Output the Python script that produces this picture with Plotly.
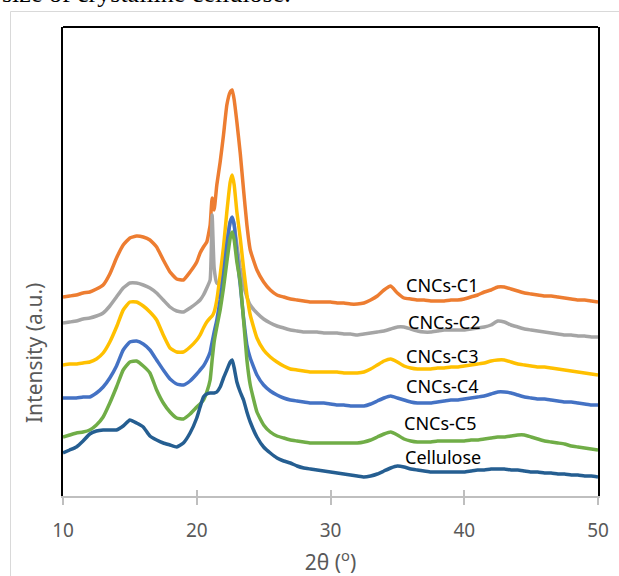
import plotly.graph_objects as go

# 2-theta grid (degrees)
two_theta = [10, 10.5, 11, 11.5, 12, 12.5, 13, 13.5, 14, 14.5, 15, 15.5, 16, 16.5, 17, 17.5, 18, 18.5, 19, 19.5, 20,
             20.25, 20.5, 20.75, 21, 21.15, 21.3, 21.5, 21.75, 22, 22.25, 22.5, 22.65, 22.8, 23, 23.25, 23.5, 23.75, 24,
             24.5, 25, 25.5, 26, 26.5, 27, 27.5, 28, 28.5, 29, 29.5, 30, 30.5, 31, 31.5, 32, 32.5, 33, 33.5, 34,
             34.5, 35, 35.5, 36, 36.5, 37, 37.5, 38, 38.5, 39, 39.5, 40, 40.5, 41, 41.5, 42, 42.5, 43, 43.5, 44,
             44.5, 45, 45.5, 46, 46.5, 47, 47.5, 48, 48.5, 49, 49.5, 50]

# intensities (a.u., stacked/offset as in the figure)
cncs_c1 = [199, 200, 201, 203, 204, 207, 211, 222, 238, 251, 258, 260, 259, 256, 249, 236, 224, 217, 216, 224, 234,
           243, 249, 254, 271, 298, 286, 311, 334, 361, 391, 404, 406, 396, 374, 343, 306, 271, 246,
           226, 214, 206, 201, 199, 197, 196, 195, 194, 194, 194, 194, 193, 193, 192, 192, 193, 196, 200, 206,
           210, 203, 198, 197, 196, 196, 195, 195, 195, 196, 196, 197, 199, 201, 204, 206, 209, 209, 207, 205,
           203, 202, 201, 200, 200, 199, 198, 197, 196, 196, 195, 194]
cncs_c2 = [173, 174, 175, 177, 178, 180, 183, 190, 199, 208, 213, 213, 211, 208, 203, 196, 189, 185, 184, 188, 193,
           196, 201, 208, 216, 281, 228, 213, 211, 224, 251, 274, 278, 271, 251, 228, 211, 199, 191,
           183, 177, 173, 170, 168, 166, 165, 164, 164, 164, 163, 163, 163, 162, 162, 161, 162, 163, 164, 165,
           167, 169, 169, 167, 165, 164, 164, 165, 166, 166, 166, 166, 167, 168, 169, 171, 175, 174, 171, 169,
           167, 166, 165, 164, 163, 162, 161, 161, 160, 160, 159, 159]
cncs_c3 = [131, 132, 132, 133, 134, 137, 143, 154, 169, 186, 194, 194, 190, 184, 176, 161, 148, 144, 144, 149, 156,
           161, 168, 174, 178, 180, 184, 196, 221, 249, 284, 314, 321, 311, 284, 258, 228, 201, 181,
           158, 146, 139, 134, 130, 127, 126, 125, 124, 124, 124, 124, 124, 123, 123, 123, 124, 127, 131, 135,
           137, 134, 130, 128, 127, 127, 127, 128, 128, 129, 129, 130, 131, 132, 133, 135, 136, 136, 134, 132,
           131, 130, 129, 129, 128, 127, 126, 125, 124, 123, 122, 121]
cncs_c4 = [98, 98, 98, 99, 99, 103, 109, 118, 130, 146, 154, 155, 152, 146, 136, 126, 117, 112, 111, 115, 122,
           126, 130, 136, 144, 154, 164, 176, 196, 221, 251, 274, 279, 271, 241, 211, 178, 151, 138,
           121, 111, 105, 101, 98, 96, 95, 94, 93, 93, 93, 92, 91, 91, 90, 90, 90, 92, 95, 98,
           100, 98, 96, 94, 93, 93, 93, 94, 95, 96, 96, 97, 98, 99, 100, 102, 104, 104, 103, 101,
           99, 98, 97, 97, 96, 95, 94, 94, 93, 92, 91, 91]
cncs_c5 = [59, 61, 63, 64, 66, 71, 79, 93, 109, 126, 134, 135, 130, 123, 106, 93, 84, 78, 77, 82, 89,
           92, 96, 104, 116, 136, 154, 169, 186, 208, 234, 258, 264, 256, 234, 214, 176, 136, 111,
           84, 71, 64, 60, 58, 56, 55, 54, 53, 53, 53, 53, 53, 53, 53, 53, 54, 56, 59, 62,
           64, 61, 57, 55, 54, 54, 54, 55, 55, 55, 55, 55, 56, 56, 57, 58, 59, 59, 60, 61,
           61, 59, 57, 55, 54, 53, 52, 50, 49, 48, 47, 46]
cellulose = [43, 46, 49, 55, 62, 65, 66, 66, 66, 70, 76, 73, 69, 60, 56, 53, 51, 49, 53, 63, 78,
             89, 99, 102, 103, 103, 103, 104, 109, 118, 126, 134, 136, 128, 114, 104, 96, 84, 74,
             59, 49, 43, 38, 35, 33, 30, 28, 27, 26, 25, 24, 23, 22, 21, 20, 19, 20, 22, 25,
             28, 30, 29, 27, 26, 25, 24, 24, 24, 24, 24, 24, 25, 26, 26, 27, 27, 27, 26, 26,
             25, 24, 24, 23, 23, 22, 22, 21, 21, 20, 20, 19]

series_names = ["CNCs-C1", "CNCs-C2", "CNCs-C3", "CNCs-C4", "CNCs-C5", "Cellulose"]
series_values = [cncs_c1, cncs_c2, cncs_c3, cncs_c4, cncs_c5, cellulose]
series_colors = ["#ED7D31", "#A5A5A5", "#FFC000", "#4472C4", "#70AD47", "#255E91"]

# in-plot label anchors (2theta, intensity)
label_x = [38.41, 38.52, 38.41, 38.34, 38.26, 38.41]
label_y = [211, 174, 140, 110, 73, 39]

x_ticks = [10, 20, 30, 40, 50]

W, H = 619, 576
L, R, T, B = 63, 21, 27, 80
pw, ph = W - L - R, H - T - B


def px_to_paper(px, py):
    return (px - L) / pw, (H - B - py) / ph


fig = go.Figure()
for name, vals, col in zip(series_names, series_values, series_colors):
    fig.add_trace(go.Scatter(x=two_theta, y=vals, mode="lines", name=name,
                             line=dict(color=col, width=3.5, shape="spline", smoothing=0.4)))

for name, lx, ly in zip(series_names, label_x, label_y):
    fig.add_annotation(x=lx, y=ly, xref="x", yref="y", text=name, showarrow=False,
                       xanchor="center", yanchor="middle",
                       font=dict(family="Noto Sans", size=18, color="#000000"))

# y-axis title as rotated text
tx, ty = px_to_paper(34, 353)
fig.add_annotation(x=tx, y=ty, xref="paper", yref="paper", text="Intensity (a.u.)", showarrow=False,
                   xanchor="center", yanchor="middle", textangle=-90,
                   font=dict(family="Noto Sans", size=21, color="#595959"))

# cropped caption text at the top of the page
cx, cy = px_to_paper(0, -6)
fig.add_annotation(x=cx, y=cy, xref="paper", yref="paper", text="size of crystalline cellulose.",
                   showarrow=False, xanchor="left", yanchor="middle",
                   font=dict(family="Liberation Serif", size=26, color="#000000"))

# chart area border (light gray) and top edge of the plot frame
bx0, by0 = px_to_paper(10.5, 11.5)
bx1, by1 = px_to_paper(660, 620)
fig.add_shape(type="rect", xref="paper", yref="paper", x0=bx0, y0=by1, x1=bx1, y1=by0,
              line=dict(color="#D9D9D9", width=1), layer="below")
fig.add_shape(type="line", xref="paper", yref="paper", x0=0, y0=1, x1=1, y1=1,
              line=dict(color="#000000", width=2))

fig.update_layout(
    width=W, height=H,
    margin=dict(l=L, r=R, t=T, b=B, autoexpand=False),
    paper_bgcolor="white", plot_bgcolor="white",
    showlegend=False,
    xaxis=dict(range=[10, 50], tickvals=x_ticks, ticks="outside", ticklen=7, tickcolor="#BFBFBF",
               tickwidth=1.5, showline=True, linecolor="#BFBFBF", linewidth=1.5, showgrid=False,
               zeroline=False, ticklabelstandoff=9, automargin=False,
               tickfont=dict(family="Noto Sans", size=19, color="#595959"),
               title=dict(text="2θ (<sup>o</sup>)", standoff=20,
                          font=dict(family="Noto Sans", size=21, color="#595959"))),
    xaxis2=dict(range=[10, 50], overlaying="x", anchor="y", side="bottom", tickvals=x_ticks,
                ticks="inside", ticklen=6, tickcolor="#BFBFBF", tickwidth=1.5,
                showticklabels=False, showline=False, showgrid=False, zeroline=False),
    yaxis=dict(range=[0, ph], showticklabels=False, ticks="", showgrid=False, zeroline=False,
               showline=True, linecolor="#000000", linewidth=2, mirror=True, automargin=False),
)
fig.add_trace(go.Scatter(x=[None], y=[None], xaxis="x2", yaxis="y", showlegend=False,
                         mode="lines", hoverinfo="skip"))

fig.write_html("out.html", config={"displayModeBar": False},
               post_script="document.body.style.margin='0';")
